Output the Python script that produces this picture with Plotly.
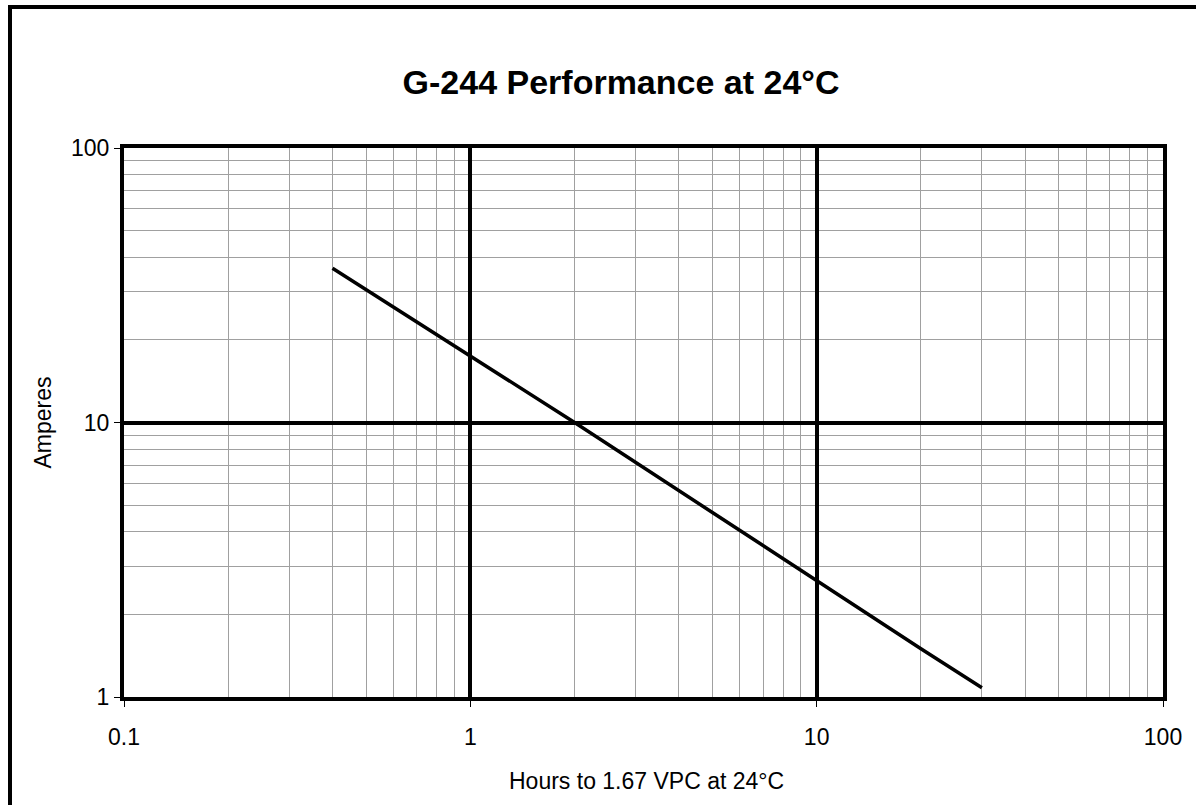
import plotly.graph_objects as go

# Data
hours = [0.4, 1, 2, 5, 10, 20, 30]
amps = [36.5, 17.5, 10.0, 4.7, 2.65, 1.5, 1.08]

x_major = [0.1, 1, 10, 100]
x_major_labels = ["0.1", "1", "10", "100"]
y_major = [1, 10, 100]
y_major_labels = ["1", "10", "100"]

title_text = "G-244 Performance at 24°C"
x_title = "Hours to 1.67 VPC at 24°C"
y_title = "Amperes"

W, H = 1196, 805
L, T = 124, 148
R = W - 1163
B = H - 697
pw, ph = W - L - R, H - T - B

def minor_vals(lo_exp, hi_exp):
    vals = []
    for e in range(lo_exp, hi_exp):
        for d in range(2, 10):
            vals.append(d * 10 ** e)
    return vals

FONT = "Arial, Liberation Sans, sans-serif"

fig = go.Figure()
fig.add_trace(go.Scatter(x=hours, y=amps, mode="lines",
                         line=dict(color="black", width=3.5), showlegend=False,
                         hoverinfo="skip"))

axis_common = dict(
    type="log",
    showline=True, linecolor="black", linewidth=4, mirror=True,
    ticks="outside", ticklen=6, tickcolor="black", tickwidth=1,
    showgrid=True, gridcolor="black", gridwidth=3.5,
    zeroline=False,
    tickfont=dict(family=FONT, size=23, color="black"),
)

fig.update_xaxes(**axis_common, range=[-1, 2], tickvals=x_major, ticktext=x_major_labels,
                 minor=dict(tickvals=minor_vals(-1, 2), showgrid=True,
                            gridcolor="#a0a0a0", gridwidth=1, ticks=""),
                 ticklabelstandoff=10)
fig.update_yaxes(**axis_common, range=[0, 2], tickvals=y_major, ticktext=y_major_labels,
                 minor=dict(tickvals=minor_vals(0, 2), showgrid=True,
                            gridcolor="#a0a0a0", gridwidth=1, ticks=""),
                 ticklabelstandoff=0)

def px_x(p):
    return (p - L) / pw

def px_y(p):
    return (H - B - p) / ph

fig.add_annotation(text=x_title, x=px_x(646), y=px_y(781), xref="paper", yref="paper",
                   xanchor="center", yanchor="middle", showarrow=False,
                   font=dict(family=FONT, size=23, color="black"))
fig.add_annotation(text=y_title, x=px_x(42), y=0.5, xref="paper", yref="paper",
                   xanchor="center", yanchor="middle", showarrow=False, textangle=-90,
                   font=dict(family=FONT, size=23, color="black"))

# outer chart frame (left and top edges visible)
fig.add_shape(type="rect", xref="paper", yref="paper",
              x0=px_x(10), x1=px_x(1260), y0=px_y(860), y1=px_y(7),
              line=dict(color="black", width=4), fillcolor="rgba(0,0,0,0)", layer="above")

fig.update_layout(
    width=W, height=H,
    margin=dict(l=L, r=R, t=T, b=B),
    paper_bgcolor="white", plot_bgcolor="white",
    title=dict(text="<b>" + title_text + "</b>", x=621 / W, xanchor="center",
               y=1 - 82 / H, yanchor="middle",
               font=dict(family=FONT, size=34, color="black")),
)

fig.write_html("out.html", config={"displayModeBar": False},
               post_script="document.body.style.margin='0';")
